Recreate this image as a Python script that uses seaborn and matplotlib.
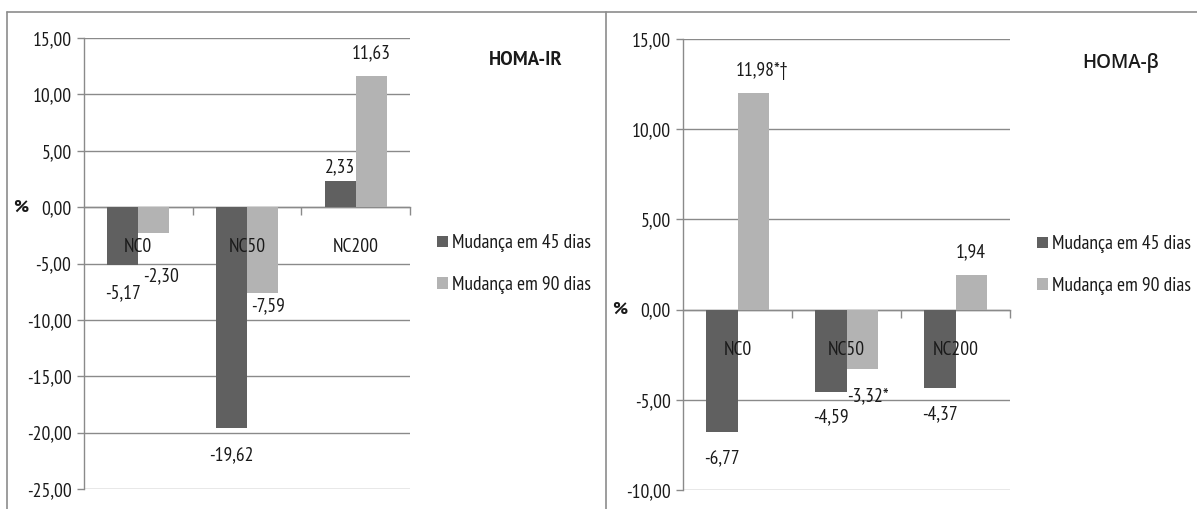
import matplotlib
matplotlib.use("Agg")
import matplotlib.pyplot as plt
from matplotlib.lines import Line2D
from matplotlib.ticker import FixedLocator, FuncFormatter
import pandas as pd
import seaborn as sns

# --- data -------------------------------------------------------------
categories = ["NC0", "NC50", "NC200"]
series_names = ["Mudança em 45 dias", "Mudança em 90 dias"]

homa_ir_45 = [-5.17, -19.62, 2.33]
homa_ir_90 = [-2.30, -7.59, 11.63]

homa_beta_45 = [-6.77, -4.59, -4.37]
homa_beta_90 = [11.98, -3.32, 1.94]
homa_beta_90_marks = ["*†", "*", ""]

ir_ticks = [15, 10, 5, 0, -5, -10, -15, -20, -25]
beta_ticks = [15, 10, 5, 0, -5, -10]

# --- style ------------------------------------------------------------
sns.set_theme(style="white")
plt.rcParams["font.family"] = ["PT Sans Narrow", "DejaVu Sans"]
plt.rcParams["text.color"] = "#1a1a1a"
TITLE_FONT = ["PT Sans", "DejaVu Sans"]

DARK = "#606060"
LIGHT = "#b3b3b3"
GRID = "#8a8a8a"
FRAME = "#8c8c8c"
FS = 14

W, H = 1197, 509
fig = plt.figure(figsize=(W / 100, H / 100), dpi=100)


def frac(x0, y0, x1, y1):
    """Pixel box (top-left origin) to figure fraction rectangle."""
    return [x0 / W, 1 - y1 / H, (x1 - x0) / W, (y1 - y0) / H]


def comma(v, _pos=None):
    return f"{v:.2f}".replace(".", ",")


def draw_panel(ax, v45, v90, ticks, labels45, labels90, offs45, offs90):
    df = pd.DataFrame({
        "grupo": categories * 2,
        "serie": [series_names[0]] * 3 + [series_names[1]] * 3,
        "valor": list(v45) + list(v90),
    })
    sns.barplot(data=df, x="grupo", y="valor", hue="serie",
                palette=[DARK, LIGHT], width=0.57, saturation=1,
                edgecolor="none", linewidth=0, ax=ax, zorder=3)

    ax.set_ylim(min(ticks), max(ticks))
    ax.set_xlim(-0.5, 2.5)
    ax.set_xlabel("")
    ax.set_ylabel("")

    # horizontal gridlines behind the bars
    for t in ticks:
        ax.axhline(t, color=GRID, lw=1.0, zorder=1)

    for side in ("top", "right"):
        ax.spines[side].set_visible(False)
    ax.spines["left"].set_color(GRID)
    ax.spines["left"].set_linewidth(1.0)
    ax.spines["left"].set_zorder(1)
    ax.spines["bottom"].set_position(("data", 0))
    ax.spines["bottom"].set_color(GRID)
    ax.spines["bottom"].set_linewidth(1.0)
    ax.spines["bottom"].set_zorder(1)

    ax.yaxis.set_major_locator(FixedLocator(ticks))
    ax.yaxis.set_major_formatter(FuncFormatter(comma))
    ax.tick_params(axis="y", left=True, length=5, width=1, color=GRID,
                   labelsize=FS, pad=4, labelcolor="#1a1a1a")

    # category separators on the zero line, names drawn over the bars
    ax.set_xticks([])
    ax.xaxis.set_minor_locator(FixedLocator([0.5, 1.5, 2.5]))
    ax.tick_params(axis="x", which="minor", bottom=True, direction="out",
                   length=6, width=1, color=GRID)
    for i, name in enumerate(categories):
        ax.annotate(name, xy=(i, 0), xytext=(0, -40),
                    textcoords="offset pixels", ha="center", va="center",
                    fontsize=FS, zorder=6)

    # bold percent sign next to the zero label
    ax.annotate("%", xy=(0, 0), xycoords=("axes fraction", "data"),
                xytext=(-56, 0), textcoords="offset pixels",
                ha="right", va="center", fontsize=FS - 1, fontweight="bold",
                family=TITLE_FONT)

    # value labels taken from the bars themselves
    for cont, labels, offs in ((ax.containers[0], labels45, offs45),
                               (ax.containers[1], labels90, offs90)):
        for bar, txt, (dx, dy) in zip(cont, labels, offs):
            xc = bar.get_x() + bar.get_width() / 2
            yv = bar.get_y() + bar.get_height()
            ax.annotate(txt, xy=(xc, yv), xytext=(dx, dy),
                        textcoords="offset pixels", ha="center",
                        va="center", fontsize=FS, zorder=6)

    handles, labs = ax.get_legend_handles_labels()
    ax.get_legend().remove()
    return handles, labs


def legend_at(handles, labs, x_px, y_px):
    fig.legend(handles, labs, loc="center left",
               bbox_to_anchor=(x_px / W, 1 - y_px / H),
               frameon=False, fontsize=FS, handlelength=0.55,
               handleheight=0.55, handletextpad=0.2, labelspacing=1.2,
               borderpad=0, borderaxespad=0)


# --- HOMA-IR ----------------------------------------------------------
ax1 = fig.add_axes(frac(84, 38, 410, 489))
h, l = draw_panel(
    ax1, homa_ir_45, homa_ir_90, ir_ticks,
    [comma(v) for v in homa_ir_45], [comma(v) for v in homa_ir_90],
    [(0, -28), (0, -27), (0, 14)],
    [(7, -43), (6, -14), (0, 23)],
)
legend_at(h, l, 437, 264)
fig.text(526 / W, 1 - 60 / H, "HOMA-IR", ha="center", va="center",
         fontsize=13.5, fontweight="bold", family=TITLE_FONT)

# --- HOMA-beta --------------------------------------------------------
ax2 = fig.add_axes(frac(683, 39, 1010, 490))
h, l = draw_panel(
    ax2, homa_beta_45, homa_beta_90, beta_ticks,
    [comma(v) for v in homa_beta_45],
    [comma(v) + m for v, m in zip(homa_beta_90, homa_beta_90_marks)],
    [(0, -26), (0, -25), (0, -26)],
    [(9, 22), (6, -27), (0, 22)],
)
legend_at(h, l, 1037, 265)
fig.text(1121 / W, 1 - 63 / H, "HOMA-β", ha="center", va="center",
         fontsize=13.5, fontweight="semibold",
         family=["Open Sans", "DejaVu Sans"])

# --- panel frames -----------------------------------------------------
for (x0, y0, x1, y1) in [(7, 12, 1197, 12), (7, 12, 7, 509),
                         (606, 12, 606, 509)]:
    fig.add_artist(Line2D([x0 / W, x1 / W], [1 - y0 / H, 1 - y1 / H],
                          transform=fig.transFigure, color=FRAME, lw=1.2))

fig.savefig("out.png", dpi=100, facecolor="white")
